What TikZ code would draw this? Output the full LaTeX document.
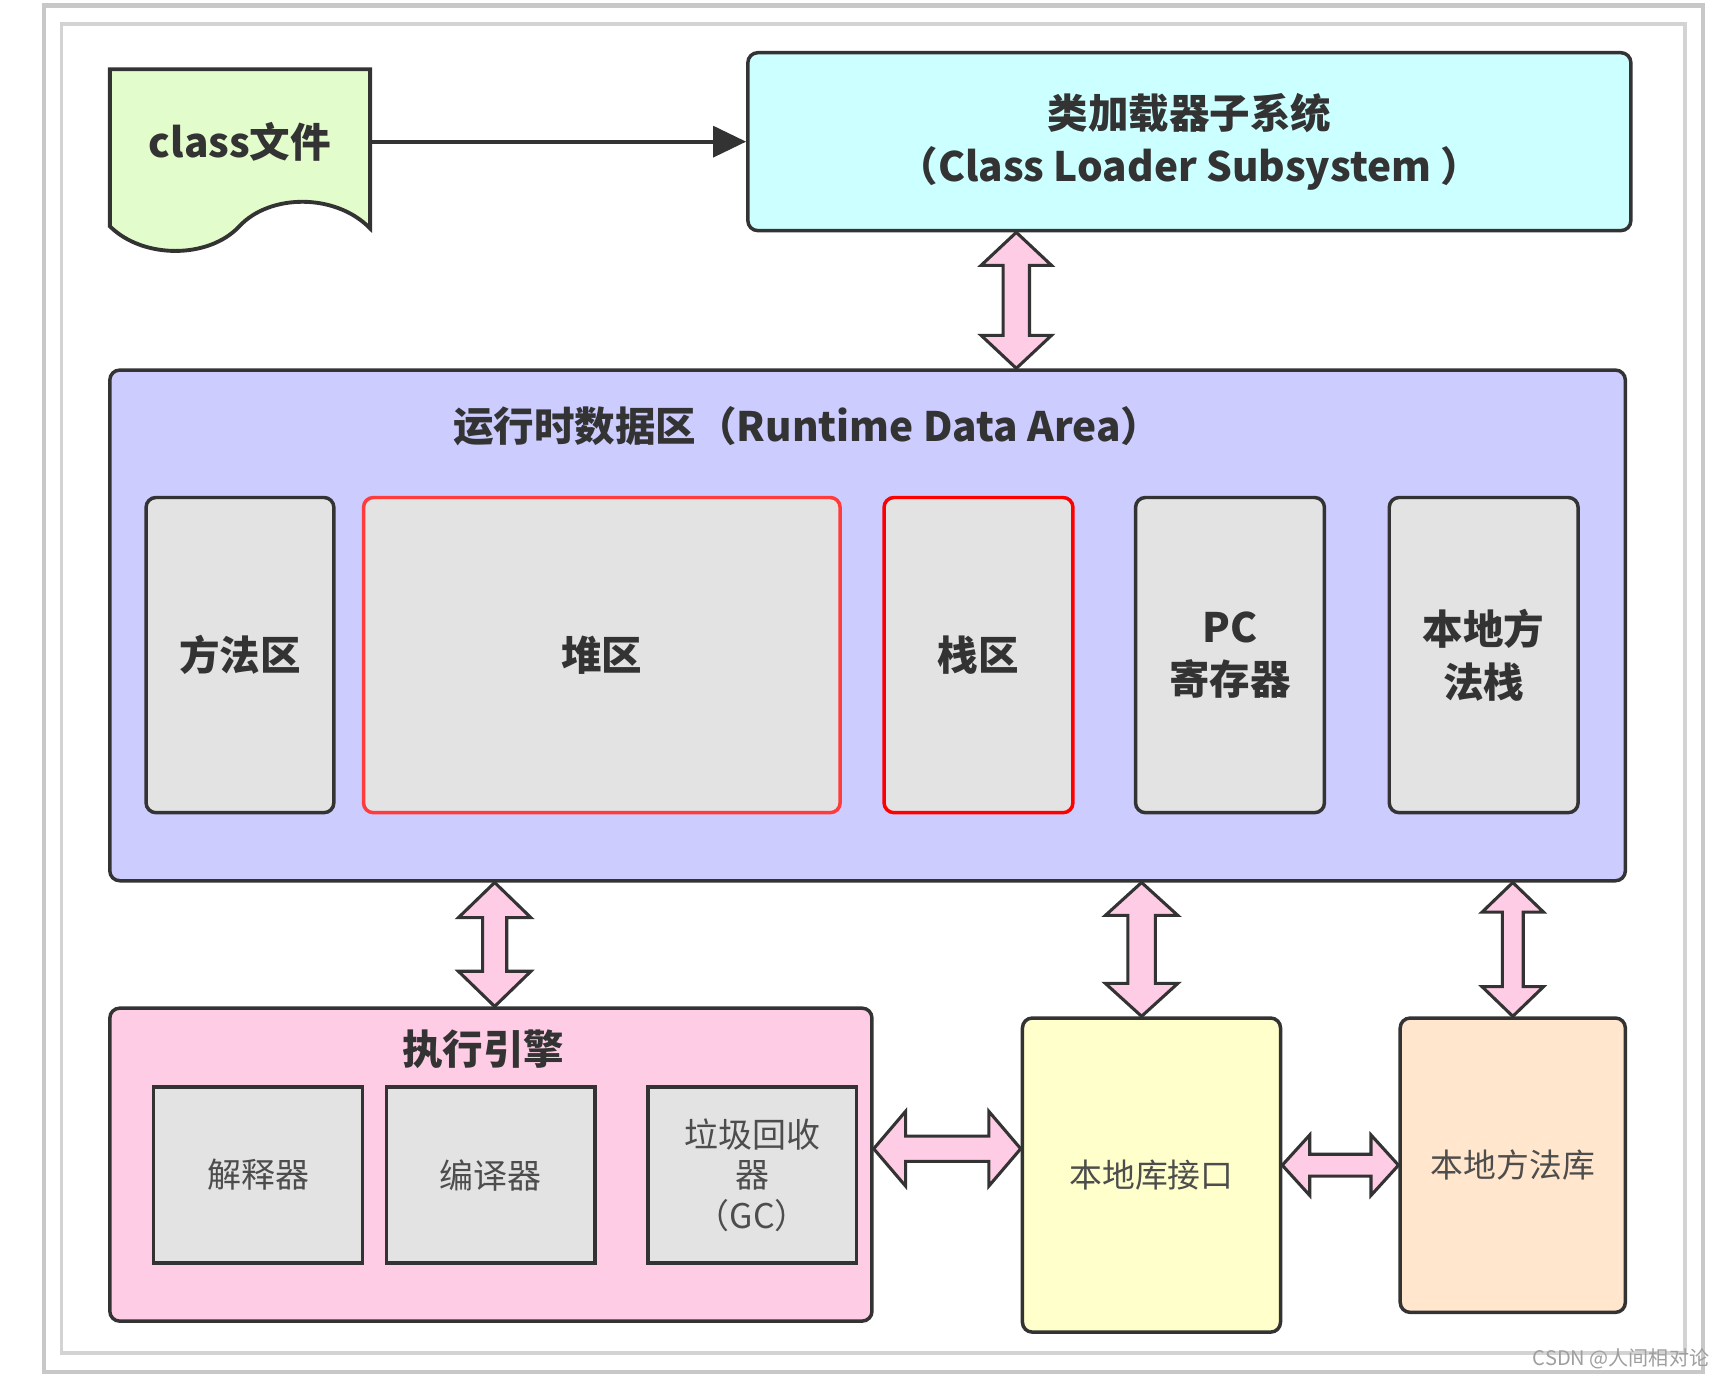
\documentclass[tikz,border=0pt]{standalone}
\usepackage{fontspec}
\setmainfont{Noto Sans CJK SC}
\usetikzlibrary{arrows.meta,calc}

\definecolor{linec}{HTML}{333333}
\definecolor{textgray}{HTML}{4D4D4D}
\definecolor{framegray}{HTML}{C8C8C8}
\definecolor{filegreen}{HTML}{E3FCCC}
\definecolor{loadercyan}{HTML}{CCFFFF}
\definecolor{rtdablue}{HTML}{CCCCFF}
\definecolor{areagray}{HTML}{E3E3E3}
\definecolor{execpink}{HTML}{FFCCE6}
\definecolor{nifyellow}{HTML}{FFFFCC}
\definecolor{niborange}{HTML}{FFE6CC}
\definecolor{heapred}{HTML}{FF3B3B}

\tikzset{
  blk/.style={draw=linec, line width=0.9pt, rounded corners=0.9mm, inner sep=0pt, align=center, text=linec},
  bigtxt/.style={font=\bfseries\fontsize{10.5}{13.6}\selectfont},
  area/.style={blk, bigtxt, fill=areagray, minimum width=17.2mm, minimum height=28.7mm},
  unit/.style={draw=linec, line width=0.9pt, fill=areagray, inner sep=0pt, align=center, text=textgray,
    font=\fontsize{8.8}{10.5}\selectfont, minimum width=19mm, minimum height=16mm},
  fat/.style={draw=linec, line width=0.8pt, fill=execpink, line join=miter},
}

% vertical fat double arrow: x-ref, top, bottom, shaft half, head half, head length
\newcommand\vfat[6]{%
  \filldraw[fat] let \p1=(#1), \p2=(#2), \p3=(#3) in
    (\x1,\y2) -- (\x1+#5,\y2-#6) -- (\x1+#4,\y2-#6) -- (\x1+#4,\y3+#6) -- (\x1+#5,\y3+#6) --
    (\x1,\y3) -- (\x1-#5,\y3+#6) -- (\x1-#4,\y3+#6) -- (\x1-#4,\y2-#6) -- (\x1-#5,\y2-#6) -- cycle;}
% horizontal fat double arrow: y-ref, left, right, shaft half, head half, head length
\newcommand\hfat[6]{%
  \filldraw[fat] let \p1=(#1), \p2=(#2), \p3=(#3) in
    (\x2,\y1) -- (\x2+#6,\y1+#5) -- (\x2+#6,\y1+#4) -- (\x3-#6,\y1+#4) -- (\x3-#6,\y1+#5) --
    (\x3,\y1) -- (\x3-#6,\y1-#5) -- (\x3-#6,\y1-#4) -- (\x2+#6,\y1-#4) -- (\x2+#6,\y1-#5) -- cycle;}

\begin{document}
\begin{tikzpicture}[x=0.1mm,y=-0.1mm]
  \useasboundingbox[fill=white] (0,0) rectangle (1568,1255);
  % frames
  \draw[framegray, line width=1.1pt] (40,5) rectangle (1551,1249);
  \draw[framegray!80, line width=1pt] (56,22) rectangle (1534,1232);

  % class file
  \filldraw[draw=linec, line width=1pt, fill=filegreen] (100,63) -- (337,63) -- (337,208)
    .. controls (306,176) and (246,176) .. (218,206)
    .. controls (190,236) and (130,236) .. (100,206) -- cycle;
  \node[bigtxt, text=linec, inner sep=0pt, minimum width=23.7mm, minimum height=13mm] (file) at (218.5,129) {class文件};

  \node[blk, bigtxt, fill=loadercyan, minimum width=80.4mm, minimum height=16.2mm,
    font=\bfseries\fontsize{10.5}{13.6}\selectfont] (loader) at (1083,129)
    {类加载器子系统\\（Class Loader Subsystem ）};
  \draw[linec, line width=1pt, -{Triangle[length=3mm,width=2.8mm]}] (file) -- (loader);

  % runtime data area
  \node[blk, fill=rtdablue, minimum width=138mm, minimum height=46.5mm] (rtda) at (790,569.5) {};
  \node[bigtxt, text=linec, inner sep=0pt] (rtdatitle) at (735,388) {运行时数据区（Runtime Data Area）};
  \node[area, minimum width=17.1mm] (method) at (218.5,596.5) {方法区};
  \node[area, draw=heapred, minimum width=43.4mm] (heap) at (548,596.5) {堆区};
  \node[area, draw=red] (stack) at (891,596.5) {栈区};
  \node[area] (pc) at (1120,596.5) {PC\\寄存器};
  \node[area] (nstack) at (1351,596.5) {本地方\\法栈};

  % execution engine
  \node[blk, fill=execpink, minimum width=69.4mm, minimum height=28.5mm] (exec) at (447,1060.5) {};
  \node[bigtxt, text=linec, inner sep=0pt] (exectitle) at (440,955) {执行引擎};
  \node[unit] (interp) at (235,1070) {解释器};
  \node[unit] (jit) at (447,1070) {编译器};
  \node[unit] (gc) at (685,1070) {垃圾回收\\器\\（GC）};

  % native side
  \node[blk, fill=nifyellow, minimum width=23.5mm, minimum height=28.6mm, text=textgray,
    font=\fontsize{8.5}{10}\selectfont] (nif) at (1048.5,1070) {本地库接口};
  \node[blk, fill=niborange, minimum width=20.5mm, minimum height=26.8mm, text=textgray,
    font=\fontsize{8.5}{10}\selectfont] (nlib) at (1377.5,1061) {本地方法库};

  % connectors
  \vfat{[xshift=24.6mm]loader.south west}{loader.south}{rtda.north}{1.2mm}{3.2mm}{3mm}
  \vfat{[xshift=35.2mm]rtda.south west}{rtda.south}{exec.north}{1.1mm}{3.3mm}{3.2mm}
  \vfat{[xshift=-0.9mm]nif.north}{rtda.south}{nif.north}{1.25mm}{3.3mm}{3mm}
  \vfat{nlib.north}{rtda.south}{nlib.north}{0.95mm}{2.8mm}{2.7mm}
  \hfat{[yshift=1.45mm]exec.east}{exec.east}{nif.west}{1.15mm}{3.4mm}{2.9mm}
  \hfat{nlib.west}{nif.east}{nlib.west}{1mm}{2.75mm}{2.5mm}

  \node[text=gray!75, font=\fontsize{5.2}{6}\selectfont, inner sep=0pt] (mark) at (1476,1237) {CSDN @人间相对论};
\end{tikzpicture}
\end{document}
